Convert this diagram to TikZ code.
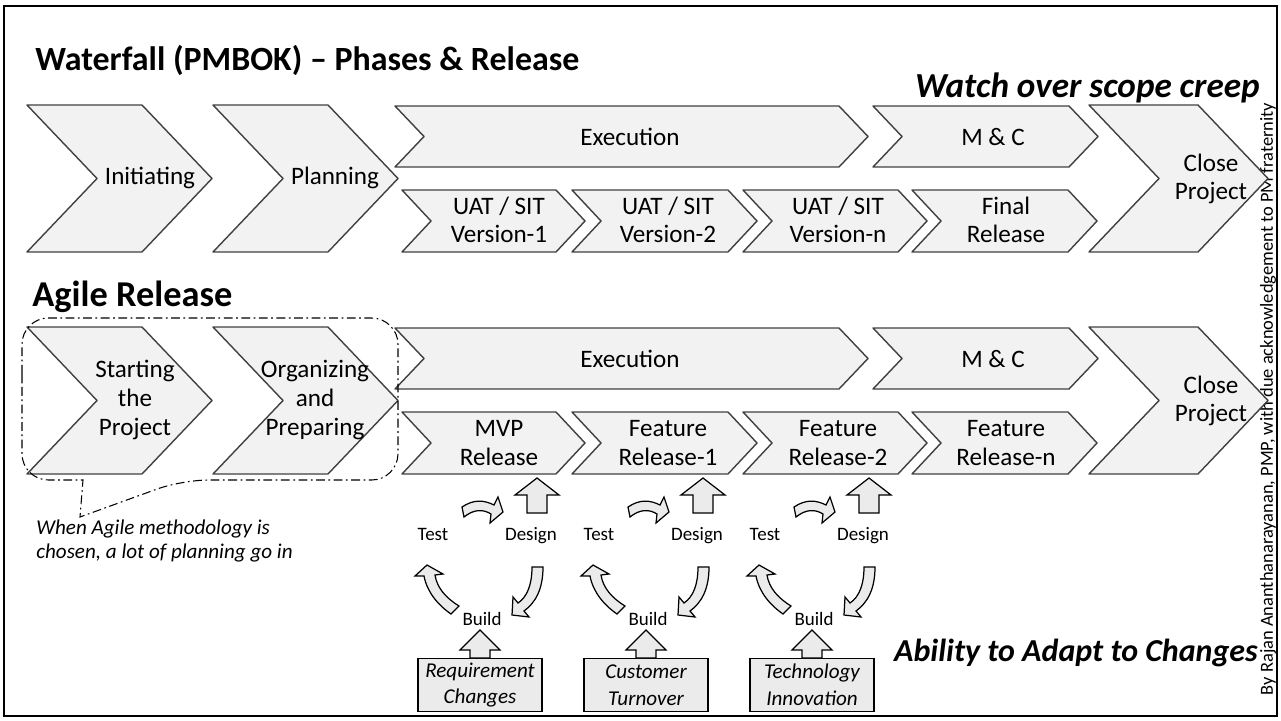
\documentclass[tikz,border=0pt]{standalone}
\usepackage{fontspec}
\setmainfont{Carlito}
\usetikzlibrary{positioning}
\tikzset{
    >=stealth,
    phase/.style={fill=black!5, draw=black!75, line width=0.8pt, line join=round},
    blockarrow/.style={fill=black!8, draw=black, line width=0.7pt},
    lbl/.style={font=\fontsize{14.3}{16.3}\selectfont, align=center, inner sep=0pt},
    small/.style={font=\fontsize{10.8}{12}\selectfont, inner sep=0pt, anchor=base},
    cause/.style={draw, fill=black!8, line width=0.7pt, minimum width=24.8mm, minimum height=10.6mm, align=center, font=\fontsize{12}{15.3}\selectfont\itshape, inner sep=0pt},
    heading/.style={font=\fontsize{#1}{24}\selectfont\bfseries, inner sep=0pt, anchor=west},
    note/.style={font=\fontsize{#1}{22}\selectfont\bfseries\itshape, inner sep=0pt, anchor=east},
    balloon/.style={dash pattern=on 5pt off 2pt on 1pt off 2pt, line width=0.6pt}
}
% x1, x2, top, bottom, depth
\newcommand{\Chevron}[5]{%
    \draw[phase] (#1,#3) -- ({#2-#5},#3) -- (#2,{(#3+#4)/2}) -- ({#2-#5},#4) -- (#1,#4) -- ({#1+#5},{(#3+#4)/2}) -- cycle;}

\begin{document}
\begin{tikzpicture}[x=0.2mm, y=-0.2mm]
    \useasboundingbox (0,0) rectangle (1281,720);
    \draw[line width=1.1pt] (4,6) rectangle (1277,716);

    \node[font=\fontsize{10.5}{12}\selectfont, rotate=90, inner sep=0pt] (credit) at (1268,399) {By Rajan Ananthanarayanan, PMP, with due acknowledgement to PM fraternity};

    \node[heading=19.3] (wf) at (35,60) {Waterfall (PMBOK) – Phases \& Release};
    \node[note=20] (watch) at (1260,88) {Watch over scope creep};

    % waterfall
    \Chevron{27}{212}{105}{252}{70}
    \Chevron{213}{398}{105}{252}{70}
    \Chevron{395}{868}{106}{167}{29}
    \Chevron{873}{1098}{106}{167}{29}
    \Chevron{402}{585}{190}{252}{29}
    \Chevron{572}{757}{190}{252}{29}
    \Chevron{743}{927}{190}{252}{29}
    \Chevron{912}{1097}{190}{252}{29}
    \Chevron{1089}{1268}{105}{252}{70}
    \node[lbl] (init) at (150,178) {Initiating};
    \node[lbl] (plan) at (335,178) {Planning};
    \node[lbl] (exec) at (630,137) {Execution};
    \node[lbl] (mc) at (993,137) {M \& C};
    \node[lbl] (uat1) at (499,220) {UAT / SIT\\Version-1};
    \node[lbl] (uat2) at (668,220) {UAT / SIT\\Version-2};
    \node[lbl] (uatn) at (838,220) {UAT / SIT\\Version-n};
    \node[lbl] (final) at (1006,220) {Final\\Release};
    \node[lbl] (close) at (1211,179) {Close\\Project};

    % agile
    \node[heading=20.7] (agile) at (32,297) {Agile Release};
    \Chevron{27}{212}{327}{474}{70}
    \Chevron{213}{398}{327}{474}{70}
    \Chevron{395}{868}{328}{389}{29}
    \Chevron{873}{1098}{328}{389}{29}
    \Chevron{402}{585}{412}{474}{29}
    \Chevron{572}{757}{412}{474}{29}
    \Chevron{743}{927}{412}{474}{29}
    \Chevron{912}{1097}{412}{474}{29}
    \Chevron{1089}{1268}{327}{474}{70}
    \node[lbl] (start) at (135,400) {Starting\\the\\Project};
    \node[lbl] (organize) at (315,400) {Organizing\\and\\Preparing};
    \node[lbl] (aexec) at (630,359) {Execution};
    \node[lbl] (amc) at (993,359) {M \& C};
    \node[lbl] (mvp) at (499,443) {MVP\\Release};
    \node[lbl] (feat1) at (668,443) {Feature\\Release-1};
    \node[lbl] (feat2) at (838,443) {Feature\\Release-2};
    \node[lbl] (featn) at (1006,443) {Feature\\Release-n};
    \node[lbl] (aclose) at (1211,401) {Close\\Project};

    \draw[balloon, rounded corners=15] (22,400) |- (398,318) |- (182,480) [sharp corners] -- (80,517) -- (83,480) [rounded corners=15] -| cycle;
    \node[font=\fontsize{12}{14}\selectfont\itshape, anchor=west, align=left, inner sep=0pt] (why) at (36,541) {When Agile methodology is\\chosen, a lot of planning go in};

    % build / test / design cycles
    \foreach \cx/\cname/\ctext in {480/req/{Requirement\\Changes}, 646/cust/{Customer\\Turnover}, 812/tech/{Technology\\Innovation}} {
        \node[small] (test-\cname) at (\cx-47,540) {Test};
        \node[small] (design-\cname) at (\cx+51,540) {Design};
        \node[small] (build-\cname) at (\cx+2,625) {Build};
        \node[cause] (\cname) at (\cx,685) {\ctext};
        \begin{scope}[shift={(\cx,0)}]
            \draw[blockarrow] (57,478) -- (79,495) -- (67,495) -- (67,513) -- (47,513) -- (47,495) -- (35,495) -- cycle;
            \draw[blockarrow] (-18,507) .. controls (-6,499) and (4,500) .. (14,505) -- (18,497) -- (23,512) -- (10,523) -- (11,514) .. controls (3,509) and (-6,509) .. (-16,517) -- cycle;
            \draw[blockarrow] (52,567) -- (63,567) .. controls (63,590) and (55,603) .. (44,611) -- (49,617) -- (32,615) -- (33,597) -- (38,603) .. controls (47,597) and (52,585) .. (52,567) -- cycle;
            \draw[blockarrow] (-29,614) -- (-21,606) .. controls (-34,598) and (-43,588) .. (-45,575) -- (-37,574) -- (-53,565) -- (-65,576) -- (-56,576) .. controls (-53,592) and (-42,605) .. (-29,614) -- cycle;
            \draw[blockarrow] (0,630) -- (20,650) -- (10,650) -- (10,658) -- (-10,658) -- (-10,650) -- (-20,650) -- cycle;
        \end{scope}
    }

    \node[note=18.2] (adapt) at (1258,653) {Ability to Adapt to Changes};
\end{tikzpicture}
\end{document}
